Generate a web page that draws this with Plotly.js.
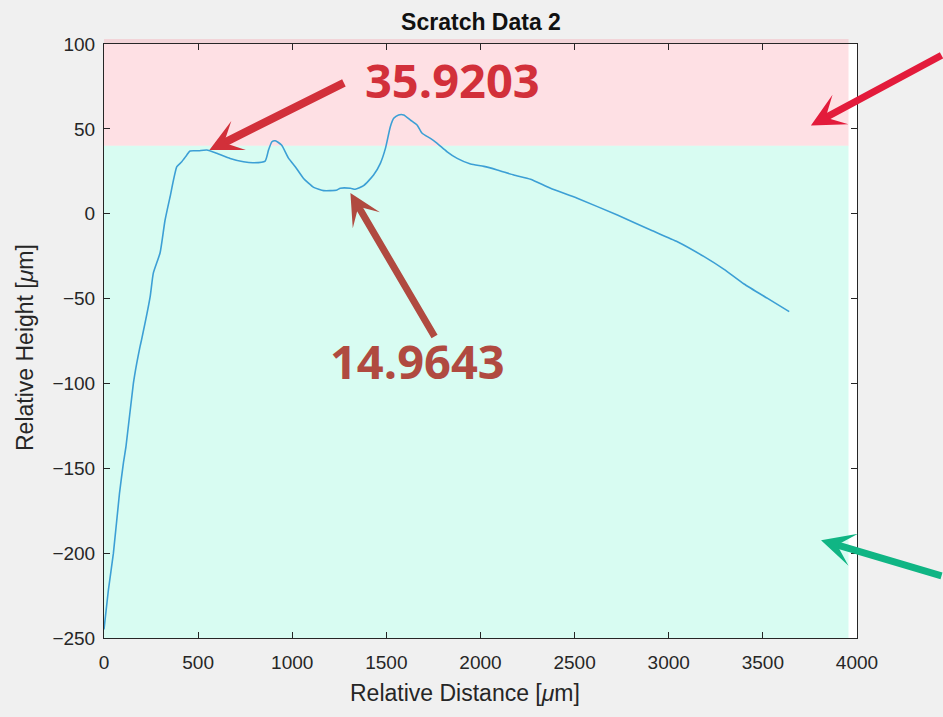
<!DOCTYPE html>
<html>
<head>
<meta charset="utf-8">
<script src="https://cdn.plot.ly/plotly-3.0.1.min.js"></script>
<style>html,body{margin:0;padding:0;background:#f0f0f0;}#chart{width:943px;height:717px;}</style>
</head>
<body>
<div id="chart"></div>
<script>
// Relative distance (µm) and relative height (µm)
const distance = [0, 23, 50, 82, 103, 117, 156, 174, 191, 200, 245, 262, 298, 324, 351, 387, 413, 440, 457, 502, 546, 599, 670, 741, 794, 856, 874, 892, 910, 943, 981, 1016, 1060, 1114, 1167, 1202, 1238, 1255, 1309, 1335, 1379, 1432, 1468, 1495, 1521, 1539, 1565, 1592, 1628, 1663, 1690, 1734, 1770, 1823, 1876, 1947, 2018, 2089, 2177, 2266, 2372, 2514, 2727, 2904, 3046, 3188, 3294, 3400, 3525, 3640];
const height = [-245, -222, -200, -165, -147, -137, -100, -88, -78.5, -74, -49, -35, -23, -4, 10, 27.7, 30.6, 34.6, 37, 37.1, 37.5, 35.6, 32.6, 30.6, 30, 31, 37.5, 42.4, 43, 40.5, 32.6, 27.7, 20.8, 15.5, 13.6, 13.6, 14, 15, 15, 14.4, 16.5, 22.8, 29.7, 38.5, 51.3, 56.2, 58.2, 58.2, 55.2, 52.3, 47.4, 44.4, 41.5, 36.5, 32.6, 29.3, 27.9, 25.8, 22.8, 20.3, 15, 9.1, -0.8, -9.6, -16.5, -25.3, -32.8, -41.4, -49.9, -57.7];

const xTicks = [0, 500, 1000, 1500, 2000, 2500, 3000, 3500, 4000];
const yTicks = [-250, -200, -150, -100, -50, 0, 50, 100];

// Band limits and annotated values
const bandLimit = 40;
const bandRight = 3955;
const peakLabel = "35.9203";
const valleyLabel = "14.9643";
const peakPoint = [560, 37.5];
const valleyPoint = [1309, 12.2];

const xRange = [0, 4000];
const yRange = [-250, 100];
const yFrac = v => (v - yRange[0]) / (yRange[1] - yRange[0]);
const xFrac = v => (v - xRange[0]) / (xRange[1] - xRange[0]);

const FONT = 'Liberation Sans, Arial, sans-serif';
const axisCommon = {
  showgrid: false, zeroline: false, showline: true, linecolor: '#262626', linewidth: 1,
  mirror: 'ticks', ticks: 'inside', ticklen: 6, tickcolor: '#262626', tickwidth: 1,
  tickfont: {family: FONT, size: 19, color: '#262626'}
};

const trace = {
  x: distance, y: height, type: 'scatter', mode: 'lines',
  line: {color: '#3c9fd5', width: 1.6, shape: 'spline', smoothing: 0.5}, hoverinfo: 'skip', showlegend: false
};

const layout = {
  width: 943, height: 717,
  paper_bgcolor: '#f0f0f0', plot_bgcolor: '#ffffff',
  margin: {l: 104, r: 86, t: 44, b: 79},
  title: {text: '<b>Scratch Data 2</b>', x: 481 / 943, xanchor: 'center', y: 1 - 22 / 717, yanchor: 'middle',
    font: {family: FONT, size: 23, color: '#111'}},
  xaxis: Object.assign({}, axisCommon, {range: xRange, tickvals: xTicks, ticklabelstandoff: 7}),
  yaxis: Object.assign({}, axisCommon, {range: yRange, tickvals: yTicks, ticklabelstandoff: 4}),
  shapes: [
    {type: 'rect', xref: 'paper', yref: 'paper', x0: 0, x1: xFrac(bandRight),
      y0: yFrac(bandLimit), y1: 1.0085, fillcolor: 'rgba(248,100,120,0.2)', line: {width: 0}, layer: 'below'},
    {type: 'rect', xref: 'paper', yref: 'paper', x0: 0, x1: xFrac(bandRight),
      y0: 0, y1: yFrac(bandLimit), fillcolor: 'rgba(60,240,190,0.2)', line: {width: 0}, layer: 'below'}
  ],
  annotations: [
    {x: (465 - 104) / 753, y: -(693 - 638) / 594, xref: 'paper', yref: 'paper', showarrow: false,
      text: 'Relative Distance [<i>μ</i>m]', xanchor: 'center', yanchor: 'middle',
      font: {family: FONT, size: 23, color: '#262626'}},
    {x: -(104 - 25) / 753, y: 1 - (348 - 44) / 594, xref: 'paper', yref: 'paper', showarrow: false,
      text: 'Relative Height [<i>μ</i>m]', textangle: -90, xanchor: 'center', yanchor: 'middle',
      font: {family: FONT, size: 23, color: '#262626'}},
    {x: 1851, y: 79, xref: 'x', yref: 'y', text: '<b>' + peakLabel + '</b>', showarrow: false,
      font: {family: 'Open Sans, sans-serif', size: 47, color: '#d2303a'}},
    {x: 1665, y: -87, xref: 'x', yref: 'y', text: '<b>' + valleyLabel + '</b>', showarrow: false,
      font: {family: 'Open Sans, sans-serif', size: 47, color: '#b04a40'}},
    {x: peakPoint[0], y: peakPoint[1], xref: 'x', yref: 'y', text: '', showarrow: true,
      ax: 136, ay: -68, arrowhead: 3, arrowsize: 0.68, arrowwidth: 8, arrowcolor: '#d2303a', standoff: 0},
    {x: valleyPoint[0], y: valleyPoint[1], xref: 'x', yref: 'y', text: '', showarrow: true,
      ax: 85, ay: 145, arrowhead: 3, arrowsize: 0.75, arrowwidth: 7, arrowcolor: '#b04a40', standoff: 0},
    {x: 3755, y: 52, xref: 'x', yref: 'y', text: '', showarrow: true,
      ax: 140, ay: -71, arrowhead: 3, arrowsize: 0.8, arrowwidth: 7, arrowcolor: '#e31b3b', standoff: 0},
    {x: 3809, y: -192.4, xref: 'x', yref: 'y', text: '', showarrow: true,
      ax: 130, ay: 36, arrowhead: 3, arrowsize: 0.8, arrowwidth: 7, arrowcolor: '#10b584', standoff: 0}
  ]
};

Plotly.newPlot('chart', [trace], layout, {displayModeBar: false, staticPlot: true});
</script>
</body>
</html>
